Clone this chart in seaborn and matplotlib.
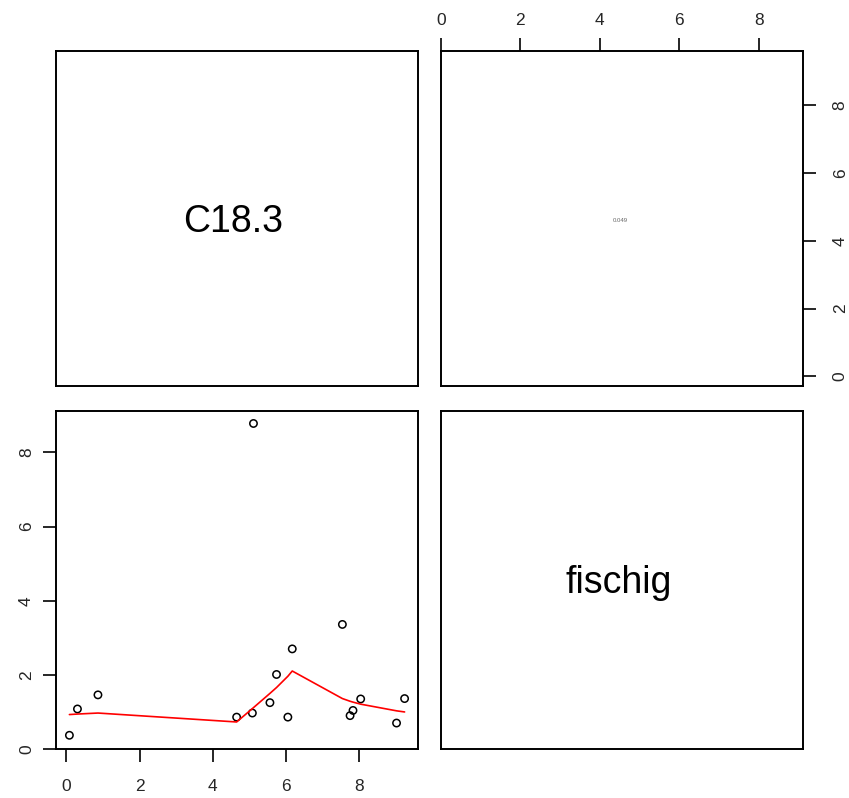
import numpy as np
import pandas as pd
import matplotlib
matplotlib.use("Agg")
import matplotlib.pyplot as plt
import seaborn as sns

# Variables of the scatterplot matrix
var_names = ["C18.3", "fischig"]
c18_3 = [0.08, 0.30, 0.86, 4.65, 5.08, 5.56, 5.74, 6.05, 6.17, 7.54, 7.75, 7.83, 8.04, 9.02, 9.24, 5.11]
fischig = [0.37, 1.08, 1.46, 0.86, 0.97, 1.25, 2.01, 0.86, 2.70, 3.36, 0.90, 1.04, 1.35, 0.70, 1.36, 8.78]
tick_values = [0, 2, 4, 6, 8]

df = pd.DataFrame({var_names[0]: c18_3, var_names[1]: fischig})

sns.set_style("ticks")
plt.rcParams["font.family"] = ["Liberation Sans", "DejaVu Sans"]


def lowess(x, y, f=2 / 3, iters=3):
    """Cleveland's robust locally weighted regression (as in R's lowess)."""
    order = np.argsort(x, kind="stable")
    x = np.asarray(x, float)[order]
    y = np.asarray(y, float)[order]
    n = len(x)
    ns = max(2, min(n, int(f * n + 1e-7)))
    xrange_ = x[-1] - x[0]
    ys = np.zeros(n)
    rw = np.ones(n)
    for it in range(iters + 1):
        nleft, nright = 0, ns - 1
        for i in range(n):
            xs = x[i]
            while nright < n - 1:
                d1 = xs - x[nleft]
                d2 = x[nright + 1] - xs
                if d1 <= d2:
                    break
                nleft += 1
                nright += 1
            h = max(xs - x[nleft], x[nright] - xs)
            h9, h1 = 0.999 * h, 0.001 * h
            w = np.zeros(n)
            a = 0.0
            j = nleft
            while j < n:
                r = abs(x[j] - xs)
                if r <= h9:
                    w[j] = 1.0 if r <= h1 else (1 - (r / h) ** 3) ** 3
                    if it > 0:
                        w[j] *= rw[j]
                    a += w[j]
                elif x[j] > xs:
                    break
                j += 1
            nrt = j - 1
            if a <= 0:
                ys[i] = y[i]
                continue
            idx = slice(nleft, nrt + 1)
            w[idx] /= a
            if h > 0:
                m = np.sum(w[idx] * x[idx])
                b = xs - m
                c = np.sum(w[idx] * (x[idx] - m) ** 2)
                if np.sqrt(c) > 0.001 * xrange_:
                    b /= c
                    w[idx] *= b * (x[idx] - m) + 1
            ys[i] = np.sum(w[idx] * y[idx])
        if it == iters:
            break
        res = np.abs(y - ys)
        cmad = 6 * np.median(res)
        if cmad < 1e-7 * np.mean(res):
            break
        c9, c1 = 0.999 * cmad, 0.001 * cmad
        rw = np.where(res <= c1, 1.0,
                      np.where(res <= c9, (1 - (res / cmad) ** 2) ** 2, 0.0))
    return x, ys


def padded(v):
    lo, hi = min(v), max(v)
    d = (hi - lo) * 0.04
    return lo - d, hi + d


W, H = 849, 798
fig = plt.figure(figsize=(W / 100, H / 100), dpi=100)


def rect(l, t, r, b):
    return [l / W, 1 - b / H, (r - l) / W, (b - t) / H]


ax_tl = fig.add_axes(rect(56, 51, 418, 386))
ax_tr = fig.add_axes(rect(441, 51, 803, 386))
ax_bl = fig.add_axes(rect(56, 411, 418, 749))
ax_br = fig.add_axes(rect(441, 411, 803, 749))

for ax in (ax_tl, ax_tr, ax_bl, ax_br):
    ax.set_facecolor("white")
    for sp in ax.spines.values():
        sp.set_visible(True)
        sp.set_color("black")
        sp.set_linewidth(1.4)
    ax.tick_params(length=0, labelleft=False, labelbottom=False,
                   left=False, bottom=False)
    ax.set_xlabel("")
    ax.set_ylabel("")

LABEL_SIZE = 12.5

# Lower panel: scatter with lowess smoother
sns.scatterplot(data=df, x=var_names[0], y=var_names[1], ax=ax_bl,
                marker="o", s=28, facecolor="none", edgecolor="black",
                linewidth=1.1, legend=False)
lx, ly = lowess(c18_3, fischig)
sns.lineplot(x=lx, y=ly, ax=ax_bl, color="red", linewidth=1.2,
             sort=False, estimator=None)
ax_bl.set_xlim(*padded(c18_3))
ax_bl.set_ylim(*padded(fischig))
ax_bl.set_xticks(tick_values)
ax_bl.set_yticks(tick_values)
ax_bl.tick_params(axis="x", bottom=True, labelbottom=True, length=9.4,
                  width=1.4, pad=12, labelsize=LABEL_SIZE, direction="out")
ax_bl.tick_params(axis="y", left=True, labelleft=True, length=9.4,
                  width=1.4, pad=6.5, labelsize=LABEL_SIZE, direction="out",
                  labelrotation=90)
for lab in ax_bl.get_yticklabels():
    lab.set_verticalalignment("center")
ax_bl.set_xlabel("")
ax_bl.set_ylabel("")

# Upper panel: correlation, text scaled by its magnitude
r = np.corrcoef(c18_3, fischig)[0, 1]
ax_tr.set_xlim(*padded(fischig))
ax_tr.set_ylim(*padded(c18_3))
ax_tr.set_xticks(tick_values)
ax_tr.set_yticks(tick_values)
ax_tr.xaxis.set_ticks_position("top")
ax_tr.yaxis.set_ticks_position("right")
ax_tr.tick_params(axis="x", top=True, labeltop=True, bottom=False,
                  labelbottom=False, length=9.4, width=1.4, pad=7,
                  labelsize=LABEL_SIZE, direction="out")
ax_tr.tick_params(axis="y", right=True, labelright=True, left=False,
                  labelleft=False, length=9.4, width=1.4, pad=12,
                  labelsize=LABEL_SIZE, direction="out", labelrotation=90)
for lab in ax_tr.get_yticklabels():
    lab.set_verticalalignment("center")
ax_tr.text(0.495, 0.493, f"{abs(r):.3f}", transform=ax_tr.transAxes,
           ha="center", va="center", fontsize=88 * abs(r), color="#666666")

# Diagonal panels: variable names
for ax, name in ((ax_tl, var_names[0]), (ax_br, var_names[1])):
    ax.set_xticks([])
    ax.set_yticks([])
    ax.text(0.49, 0.49, name, transform=ax.transAxes, ha="center",
            va="center", fontsize=27, color="black")

fig.savefig("out.png", dpi=100)
